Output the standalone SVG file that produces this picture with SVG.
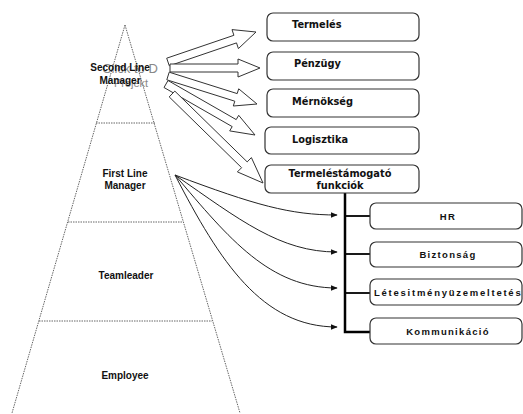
<svg xmlns="http://www.w3.org/2000/svg" width="523" height="414" viewBox="0 0 523 414">
<defs>
<style>
.pyr{fill:none;stroke:#666;stroke-width:1;stroke-dasharray:1.5,1}
.lvl{font-family:"Liberation Sans",Arial,sans-serif;font-weight:bold;font-size:10px;fill:#111;text-anchor:middle}
.box{fill:#fff;stroke:#333;stroke-width:1.2}
.bt{font-family:"DejaVu Sans",Verdana,sans-serif;font-weight:bold;font-size:9.8px;fill:#111}
.lt{font-family:"Liberation Sans",Arial,sans-serif;font-weight:bold;font-size:9.5px;fill:#111;text-anchor:middle;letter-spacing:1.3px}
.blk{fill:#fff;stroke:#333;stroke-width:1}
.crv{fill:none;stroke:#222;stroke-width:1}
.bar{fill:none;stroke:#000;stroke-width:2.5}
.br{fill:none;stroke:#000;stroke-width:1.8}
</style>
<marker id="ah" viewBox="0 0 10 10" refX="9" refY="5" markerWidth="7" markerHeight="7" markerUnits="userSpaceOnUse" orient="auto">
<path d="M0,1 L10,5 L0,9 z" fill="#111"/>
</marker>
</defs>
<rect width="523" height="414" fill="#fff"/>

<g id="pyramid">
<line class="pyr" x1="125" y1="25" x2="12" y2="413"/>
<line class="pyr" x1="125" y1="25" x2="240" y2="413"/>
<line class="pyr" x1="96" y1="123" x2="155" y2="123"/>
<line class="pyr" x1="68" y1="222" x2="183" y2="222"/>
<line class="pyr" x1="39" y1="321" x2="212" y2="321"/>
</g>

<g id="level-second">
<text x="130" y="73" font-family="Liberation Sans,Arial,sans-serif" font-size="13" fill="#888" text-anchor="middle">Click to D</text>
<text x="131" y="87" font-family="Liberation Sans,Arial,sans-serif" font-size="11" fill="#888" text-anchor="middle">Projekt</text>
<text class="lvl" x="120" y="71" font-size="9.5">Second Line</text>
<text class="lvl" x="120" y="84" font-size="9.5">Manager</text>
</g>
<g id="level-first">
<text class="lvl" x="125" y="177">First Line</text>
<text class="lvl" x="125" y="189">Manager</text>
</g>
<g id="level-team"><text class="lvl" x="126" y="279">Teamleader</text></g>
<g id="level-employee"><text class="lvl" x="125" y="379">Employee</text></g>

<g id="connectors">
<polygon class="blk" points="169.3,65.8 236.5,42.9 238.4,48.6 256,32 232,29.6 233.9,35.3 166.7,58.2"/>
<polygon class="blk" points="170,72 238,72 238,77 260,68 238,59 238,64 170,64"/>
<polygon class="blk" points="166.8,79.8 234.8,101.2 233.3,106 257,104 238.7,88.8 237.2,93.6 169.2,72.2"/>
<polygon class="blk" points="164,87.5 232.2,126.6 229.7,130.9 255,135 238.7,115.3 236.2,119.6 168,80.5"/>
<polygon class="blk" points="169.2,96.9 241.6,167.7 237.4,171.9 263,183 251.4,157.6 247.2,161.9 174.8,91.1"/>
<path class="crv" d="M175,175 C255,205 290,215 337,215" marker-end="url(#ah)"/>
<path class="crv" d="M175,175 C240,220 280,252 337,252" marker-end="url(#ah)"/>
<path class="crv" d="M175,175 C230,240 270,288 337,288" marker-end="url(#ah)"/>
<path class="crv" d="M175,175 C220,262 262,327 337,327" marker-end="url(#ah)"/>
<polyline class="bar" points="345,193 345,332 370,332"/>
<line class="br" x1="345" y1="216" x2="370" y2="216"/>
<line class="br" x1="345" y1="254" x2="370" y2="254"/>
<line class="br" x1="345" y1="293" x2="370" y2="293"/>
</g>

<g id="termeles"><rect class="box" x="267" y="13" width="152" height="28" rx="6"/><text class="bt" x="292" y="28">Termelés</text></g>
<g id="penzugy"><rect class="box" x="267" y="52" width="152" height="28" rx="6"/><text class="bt" x="294" y="67">Pénzügy</text></g>
<g id="mernokseg"><rect class="box" x="267" y="89" width="152" height="28" rx="6"/><text class="bt" x="292" y="105">Mérnökség</text></g>
<g id="logisztika"><rect class="box" x="265" y="127" width="154" height="27" rx="6"/><text class="bt" x="292" y="143">Logisztika</text></g>
<g id="tamogato"><rect class="box" x="265" y="165" width="154" height="28" rx="6"/><text class="bt" x="340" y="177" text-anchor="middle">Termeléstámogató</text><text class="bt" x="340" y="189" text-anchor="middle">funkciók</text></g>

<g id="hr"><rect class="box" x="370" y="203" width="152" height="26" rx="6"/><text class="lt" x="448" y="220">HR</text></g>
<g id="biztonsag"><rect class="box" x="370" y="242" width="152" height="25" rx="6"/><text class="lt" x="448" y="258">Biztonság</text></g>
<g id="letesitmeny"><rect class="box" x="370" y="279" width="152" height="26" rx="6"/><text class="lt" x="448" y="296" textLength="148" lengthAdjust="spacing">Létesitményüzemeltetés</text></g>
<g id="kommunikacio"><rect class="box" x="370" y="318" width="152" height="26" rx="6"/><text class="lt" x="448" y="335">Kommunikáció</text></g>
</svg>
